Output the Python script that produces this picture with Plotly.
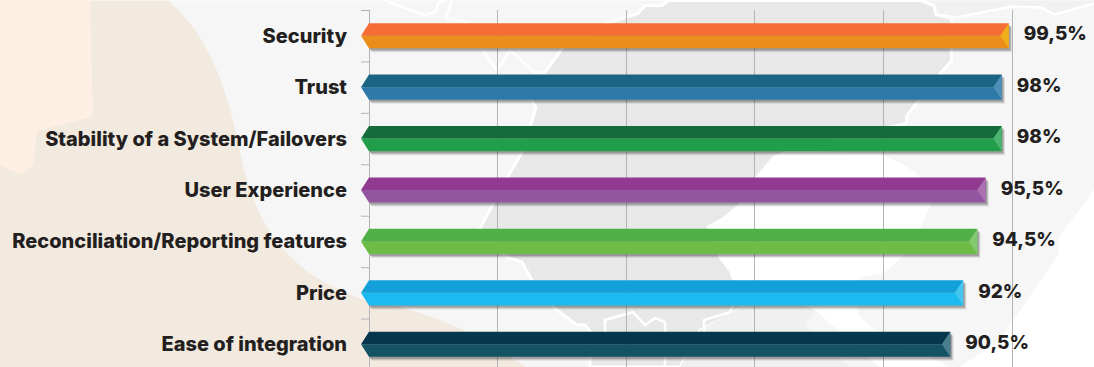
import plotly.graph_objects as go

categories = ["Security", "Trust", "Stability of a System/Failovers", "User Experience",
              "Reconciliation/Reporting features", "Price", "Ease of integration"]
bar_values = [99.5, 98.4, 98.4, 95.9, 94.6, 92.4, 90.4]
value_labels = ["99,5%", "98%", "98%", "95,5%", "94,5%", "92%", "90,5%"]
upper_colors = ["#F56D35", "#1B6484", "#156C3A", "#913A91", "#50B048", "#139FD8", "#05374D"]
lower_colors = ["#EC8D1B", "#2D7AA9", "#229E4A", "#9355A0", "#6DBC46", "#1ABBF1", "#135364"]
facet_colors = ["#F0AE1A", "#4E8EB8", "#4BB56F", "#AC6FB0", "#82C86F", "#45C5F0", "#4A7F8F"]
x_ticks = [0, 20, 40, 60, 80, 100]

W, H = 1094, 367
X0, T = 369, 9.5        # pixel of x=0, top of the plot
UX = 6.43               # px per x unit
UY = 51.5               # px per category
L = 361                 # left edge of the plot (ticks live between L and X0)
FONT = "Inter"
TXT = "#231F20"
GRID = "#B4B4B4"

px = lambda x: (x - L) / (W - L)
py = lambda y: 1 - (y - T) / (H - T)


def pts(points):
    return "L".join(f"{px(a):.5f},{py(b):.5f}" for a, b in points)


def poly(points, color, lw=0):
    return dict(type="path", xref="paper", yref="paper", layer="below", path="M" + pts(points) + "Z",
                fillcolor=color, line=dict(width=lw, color="white"))


def outline(points, lw=2.5):
    return dict(type="path", xref="paper", yref="paper", layer="below", path="M" + pts(points),
                line=dict(width=lw, color="white"))


shapes = [
    poly([(0, 0), (1094, 0), (1094, 190), (1060, 235), (1058, 255), (1000, 340), (960, 367), (0, 367)], "#F6F6F6"),
    dict(type="path", xref="paper", yref="paper", layer="below", line=dict(width=0), fillcolor="#F2E9DF",
         path=f"M{px(0)},{py(0)}L{px(168)},{py(0)}C{px(215)},{py(40)} {px(228)},{py(100)} {px(238)},{py(140)}"
              f"C{px(250)},{py(210)} {px(275)},{py(270)} {px(365)},{py(300)}"
              f"C{px(430)},{py(310)} {px(480)},{py(335)} {px(525)},{py(367)}L{px(0)},{py(367)}Z"),
    poly([(0, 0), (90, 0), (93, 116), (37, 131), (33, 165), (22, 175), (0, 165)], "#FDF0E3"),
    poly([(921, 0), (934, 5), (936, 14), (957, 17), (1011, 6), (1041, 7), (1055, 14), (1094, 3), (1094, 0)], "#F1F1F1"),
    poly([(645, 5), (662, 5), (668, 0), (921, 0), (934, 5), (936, 14), (952, 18), (951, 48), (952, 60), (941, 72),
          (907, 115), (906, 123), (790, 150), (774, 157), (757, 177), (740, 205), (724, 218), (708, 227), (720, 257),
          (730, 270), (745, 305), (724, 318), (700, 330), (680, 367), (590, 367), (590, 331), (585, 325), (577, 325),
          (552, 306), (532, 280), (522, 262), (507, 257), (480, 228), (507, 178), (523, 150), (536, 107),
          (526, 90), (545, 72), (563, 47), (600, 25), (638, 13)], "#E8E8E8", lw=3),
    poly([(790, 150), (880, 153), (905, 165), (940, 190), (928, 210), (915, 245), (885, 272), (860, 277), (858, 315),
          (875, 330), (905, 345), (950, 367), (880, 367), (815, 310), (790, 300), (745, 305), (730, 270), (720, 257),
          (708, 227), (724, 218), (740, 205), (757, 177), (774, 157)], "#FFFFFF"),
    poly([(745, 305), (790, 300), (815, 310), (805, 325), (830, 350), (850, 367), (680, 367), (700, 330)], "#F0F0F0"),
    outline([(921, 0), (934, 5), (936, 14), (957, 17), (1011, 6), (1041, 7), (1055, 14), (1094, 3)]),
    outline([(385, 0), (398, 5), (425, 15), (436, 11), (438, 3), (445, 0)]),
    outline([(452, 0), (446, 18), (470, 22)]),
    outline([(483, 50), (497, 70), (510, 50), (516, 55), (534, 72), (545, 72)]),
    outline([(605, 350), (605, 320), (633, 312), (645, 325), (655, 318), (665, 322), (665, 367)]),
    outline([(705, 350), (704, 320), (730, 312), (735, 300)]),
]

dx = 1 / UX
dy = 1 / UY
HALF = 12.6 * dy
TIP = 8 * dx
FACET = 8.5 * dx

traces = []

# category boundary ticks, from the axis out to the left edge of the plot
tick_x, tick_y = [], []
for i in range(len(categories)):
    tick_x += [-TIP, 0, None]
    tick_y += [i - 0.5 + 0.5 * dy, i - 0.5 + 0.5 * dy, None]
traces.append(go.Scatter(x=tick_x, y=tick_y, mode="lines", line=dict(color=GRID, width=1),
                         hoverinfo="skip", showlegend=False))


def fill(xs, ys, color):
    traces.append(go.Scatter(x=xs + xs[:1], y=ys + ys[:1], mode="lines", fill="toself", fillcolor=color,
                             line=dict(width=0), hoverinfo="skip", showlegend=False))


for i, v in enumerate(bar_values):
    for off, alpha in ((4, 0.10), (3, 0.16), (2, 0.22)):
        sx, sy = off * dx * 0.8, off * dy
        fill([-TIP + sx, sx, v + sx, v + sx, sx], [i + sy, i - HALF + sy, i - HALF + sy, i + HALF + sy, i + HALF + sy],
             f"rgba(40,40,40,{alpha})")
    fill([-TIP, 0, v, v], [i, i - HALF, i - HALF, i], upper_colors[i])
    fill([-TIP, 0, v, v], [i, i + HALF, i + HALF, i], lower_colors[i])
    fill([v, v, v - FACET], [i - HALF, i + HALF, i], facet_colors[i])

traces.append(go.Scatter(x=[v + 15 * dx for v in bar_values], y=list(range(len(categories))), mode="text",
                         text=value_labels, textposition="middle right", hoverinfo="skip", showlegend=False,
                         textfont=dict(family=FONT, size=19, color=TXT, weight=800)))

fig = go.Figure(traces)
fig.update_layout(
    width=W, height=H, autosize=False, showlegend=False,
    margin=dict(l=L, r=0, t=T, b=0, pad=0),
    paper_bgcolor="#FFFFFF", plot_bgcolor="rgba(0,0,0,0)", shapes=shapes,
    xaxis=dict(range=[(L - X0) / UX, (W - X0) / UX], tickmode="array", tickvals=x_ticks, showticklabels=False,
               ticks="", showgrid=True, gridcolor=GRID, gridwidth=1, zeroline=False, showline=False),
    yaxis=dict(range=[(H - T) / UY - 0.5, -0.5], tickmode="array", tickvals=list(range(len(categories))),
               ticktext=categories, ticks="", showgrid=False, zeroline=False, showline=False,
               ticklabelstandoff=13,
               tickfont=dict(family=FONT, size=20, color=TXT, weight=800)),
)
fig.write_html("out.html", config=dict(displayModeBar=False),
               post_script="document.body.style.margin='0';document.documentElement.style.overflow='hidden';")
